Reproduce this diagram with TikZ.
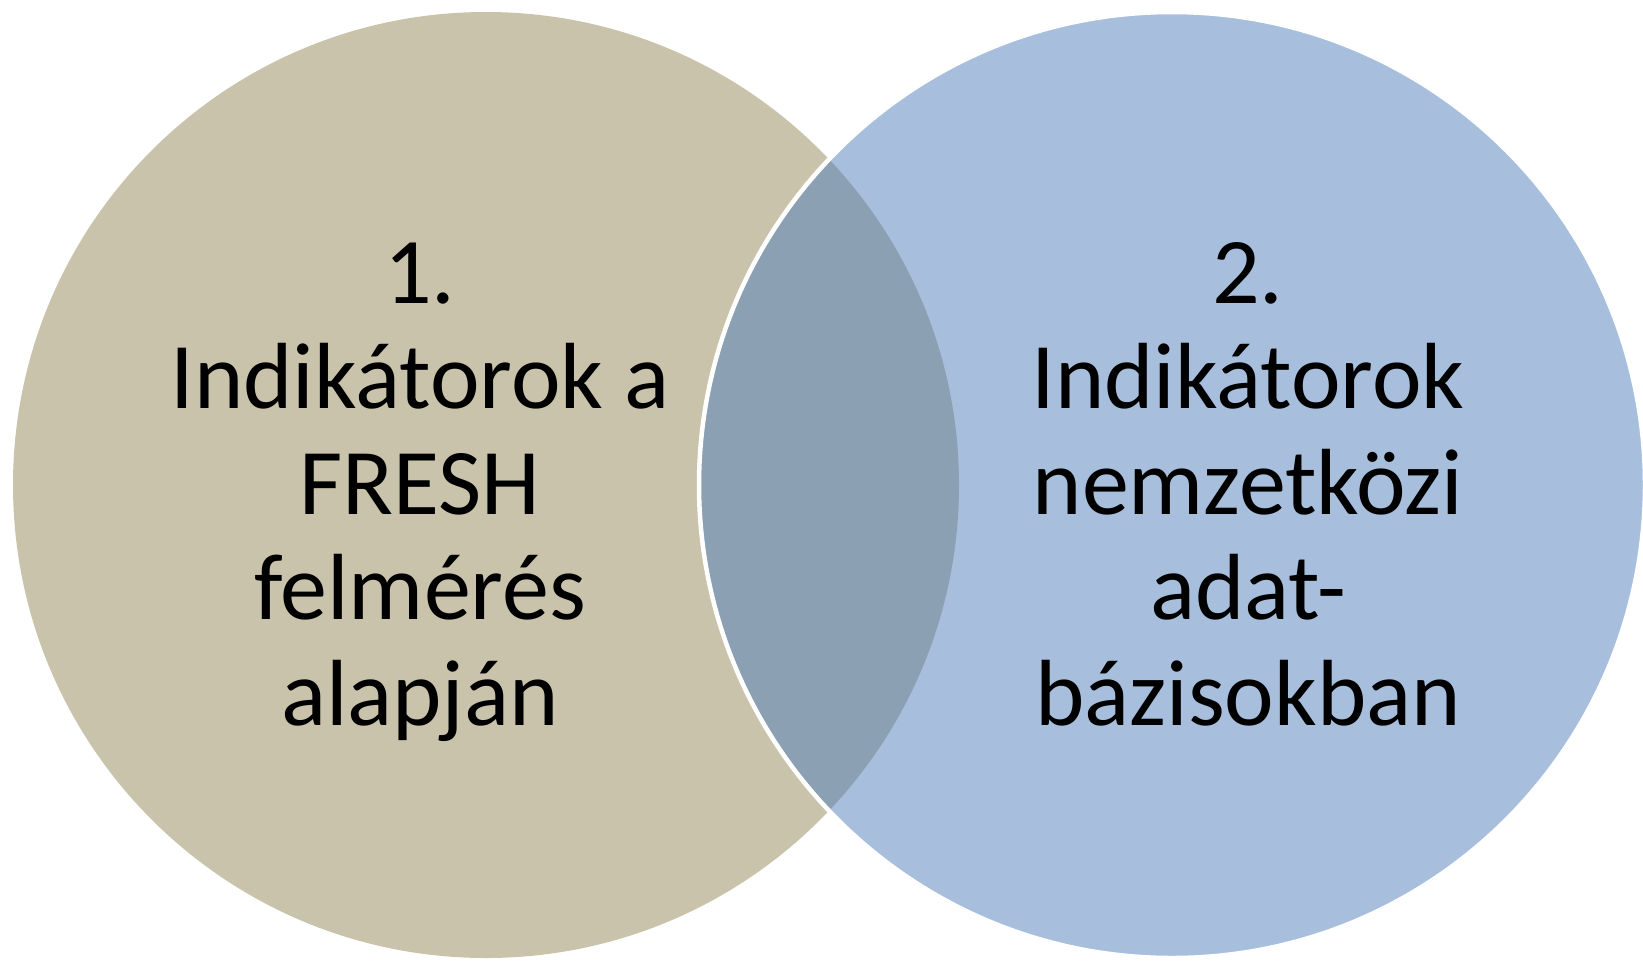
\documentclass[tikz,border=0pt]{standalone}
\usepackage{fontspec}
\setmainfont{Carlito}
\definecolor{settan}{RGB}{200,195,170}
\definecolor{setblue}{RGB}{167,191,221}
\definecolor{setboth}{RGB}{139,160,178}
\usepackage{tikz}
\usetikzlibrary{positioning}

\begin{document}
\begin{tikzpicture}[x=0.5pt, y=-0.5pt,
    setcircle/.style={circle, minimum size=473pt, inner sep=0pt},
    settext/.style={align=center, anchor=base, inner sep=0pt, font=\fontsize{47}{52.75}\selectfont}]
    \useasboundingbox (0,0) rectangle (1643,960);
    % Left set
    \node[setcircle, fill=settan] (left) at (486,485) {};
    % Right set
    \node[setcircle, fill=setblue] (right) at (1172,485) {};
    % Overlap of both sets
    \begin{scope}
        \clip (left.center) circle (236.5pt);
        \fill[setboth] (right.center) circle (236.5pt);
    \end{scope}
    \draw[white, line width=2.25pt] (right.center) circle (236.5pt);
    % Labels (base = last line)
    \node[settext] (lefttext) at (420,725) {1.\\Indikátorok a\\FRESH\\felmérés\\alapján};
    \node[settext] (righttext) at (1248,725) {2.\\Indikátorok\\nemzetközi\\adat-\\bázisokban};
\end{tikzpicture}
\end{document}
